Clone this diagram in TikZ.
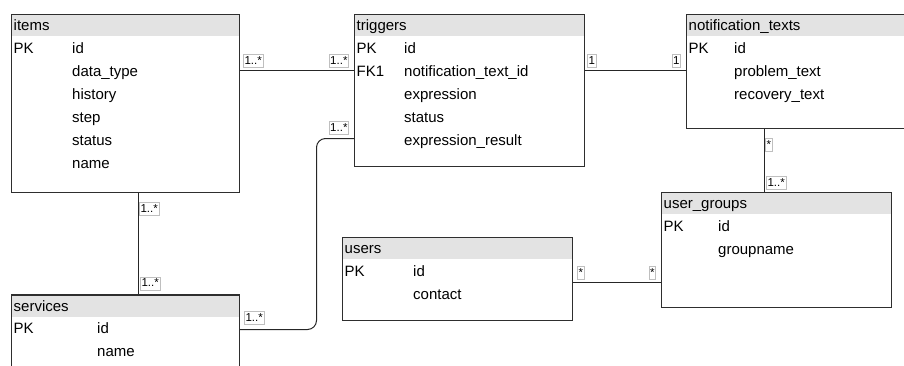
\documentclass[tikz,border=0pt]{standalone}
\usepackage{fontspec}
\setmainfont{Liberation Sans}
\usetikzlibrary{calc}

\tikzset{
  tbl/.style={draw=black!82, line width=1.2pt, fill=white, anchor=north west,
    inner sep=0pt,
    path picture={\fill[black!11] (path picture bounding box.north west)
      rectangle ([yshift=-22pt]path picture bounding box.north east);}},
  fld/.style={anchor=base west, inner sep=0pt, font=\fontsize{15}{18}\selectfont},
  card/.style={draw=black!25, fill=white, line width=0.6pt, inner xsep=1.2pt,
    inner ysep=0.6pt, text height=9.2pt, text depth=2.8pt,
    font=\fontsize{11.5}{12}\selectfont},
  rel/.style={draw=black!85, line width=1pt},
}

% table: name, left, top, width, height, title
\newcommand\erTable[6]{%
  \node[tbl, minimum width=#4pt, minimum height=#5pt] (#1) at (#2,#3) {};
  \node[fld] (#1-title) at (#2+2.5,#3+17) {#6};
}
% columns of a table: name, left, top, field column offset, fields
\newcommand\erFields[5]{%
  \node[fld] (#1-pk) at (#2+2.5,#3+39.5) {PK};
  \foreach \f [count=\i from 0] in {#5} {
    \node[fld] (#1-f\i) at (#2+#4,#3+39.5+23*\i) {\f};
  }
}

\begin{document}
\begin{tikzpicture}[x=1pt, y=-1pt]
\useasboundingbox (0,0) rectangle (904,365);
\clip (0,0) rectangle (904,365);

% tables
\erTable{items}{11}{13.7}{228}{178.3}{items}
\erFields{items}{11}{13.7}{61}{id,data\_type,history,step,status,name}

\erTable{triggers}{354}{13.7}{230}{152.3}{triggers}
\erFields{triggers}{354}{13.7}{50}{id,notification\_text\_id,expression,status,expression\_result}
\node[fld] (triggers-fk) at (356.5,13.7+39.5+23) {FK1};

\erTable{notif}{686}{13.7}{230}{114.3}{notification\_texts}
\erFields{notif}{686}{13.7}{48}{id,problem\_text,recovery\_text}

\erTable{groups}{661}{191.7}{230}{115.3}{user\_groups}
\erFields{groups}{661}{191.7}{57}{id,groupname}

\erTable{users}{342}{236.7}{230}{83.3}{users}
\erFields{users}{342}{236.7}{71}{id,contact}

\erTable{services}{11}{294.3}{228}{80}{services}
\erFields{services}{11}{294.3}{86}{id,name}

% relations
\draw[rel] ([yshift=-56.8pt]items.north east) -- ([yshift=-56.8pt]triggers.north west);
\draw[rel] ([yshift=-56.8pt]triggers.north east) -- ([yshift=-56.8pt]notif.north west);
\draw[rel] ([xshift=127.5pt]items.south west) -- ([xshift=127.5pt]services.north west);
\draw[rel, rounded corners=9pt] ([yshift=-35.2pt]services.north east)
  -| ([xshift=-37.5pt,yshift=-124.8pt]triggers.north west)
  -- ([yshift=-124.8pt]triggers.north west);
\draw[rel] ([xshift=78.5pt]notif.south west) -- ([xshift=103.5pt]groups.north west);
\draw[rel] ([yshift=-45.8pt]users.north east) -- ([yshift=-90.8pt]groups.north west);

% multiplicities
\node[card, anchor=south west] (m1) at (243,68) {1..*};
\node[card, anchor=south east] (m2) at (349,68) {1..*};
\node[card, anchor=south east] (m3) at (349,135) {1..*};
\node[card, anchor=south west] (m4) at (244,325) {1..*};
\node[card, anchor=north west] (m5) at (139,202) {1..*};
\node[card, anchor=south west] (m6) at (140,290.5) {1..*};
\node[card, anchor=south west] (m7) at (587,68) {1};
\node[card, anchor=south east] (m8) at (681,68) {1};
\node[card, anchor=north west] (m9) at (765,138) {*};
\node[card, anchor=south west] (m10) at (766,190) {1..*};
\node[card, anchor=south west] (m11) at (577,280) {*};
\node[card, anchor=south east] (m12) at (656,280) {*};
\end{tikzpicture}
\end{document}
